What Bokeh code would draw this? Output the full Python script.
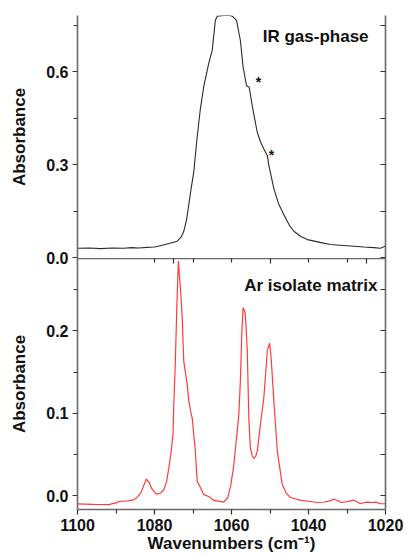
from bokeh.plotting import figure
from bokeh.models import Range1d, LinearAxis, FixedTicker, PrintfTickFormatter, CustomJSTickFormatter
from bokeh.layouts import column
from bokeh.embed import file_html
from bokeh.resources import INLINE
from bokeh.core.properties import value

# ---------------- data ----------------
gas_wn = [1100, 1097, 1094, 1091, 1088, 1086, 1084, 1082, 1080, 1078, 1076, 1074.1, 1073,
          1072.4, 1071.7, 1071.1, 1070.5, 1069.8, 1069.0, 1068.1, 1067.2, 1065.9, 1065.0,
          1064.5, 1064.2, 1063.7, 1062, 1060.5, 1059.8, 1058.7, 1057.7, 1057.0, 1056.1,
          1055.4, 1054.6, 1053.3, 1052.5, 1051.6, 1050.7, 1050.3, 1049.0, 1047.8, 1046.4,
          1045, 1043.8, 1042, 1040.3, 1037, 1034.3, 1030, 1025.6, 1023, 1021.3, 1020]
gas_abs = [0.030, 0.031, 0.029, 0.031, 0.030, 0.032, 0.031, 0.033, 0.034, 0.040, 0.046, 0.053, 0.068,
           0.085, 0.120, 0.170, 0.222, 0.277, 0.380, 0.479, 0.553, 0.628, 0.670,
           0.730, 0.766, 0.780, 0.782, 0.782, 0.780, 0.766, 0.702, 0.617, 0.555,
           0.550, 0.489, 0.404, 0.375, 0.351, 0.330, 0.298, 0.223, 0.175, 0.138,
           0.105, 0.085, 0.068, 0.058, 0.049, 0.042, 0.038, 0.034, 0.032, 0.030, 0.037]

ar_wn = [1100, 1096, 1091.9, 1090, 1089.3, 1087, 1085.4, 1084.5, 1083.6, 1082.8, 1082.1, 1081.4,
         1080.8, 1080, 1079.3, 1078.4, 1077.6, 1076.9, 1076.3, 1075.7, 1075.2, 1075.0, 1074.6,
         1074.2, 1073.8, 1073.4, 1073.1, 1072.8, 1072.4, 1071.5, 1071.1, 1070.6, 1070.2, 1069.4,
         1068.9, 1068.1, 1067.2, 1065.9, 1064.6, 1062.0, 1061.0, 1060.2, 1059.4, 1058.1, 1057.7,
         1057.3, 1057.0, 1056.6, 1056.4, 1055.9, 1055.5, 1055.1, 1054.6, 1054.2, 1053.7, 1053.3,
         1052.5, 1051.6, 1051.1, 1050.7, 1050.1, 1049.7, 1049.0, 1048.1, 1046.8, 1045.8, 1044.7,
         1042, 1039.5, 1037.7, 1036.0, 1034.5, 1033.4, 1032.5, 1031.5, 1030, 1028.2, 1027.3,
         1026.5, 1025.5, 1024.8, 1023.5, 1022.5, 1021.3, 1020]
ar_abs = [-0.0102, -0.0108, -0.011, -0.009, -0.0073, -0.0065, -0.0053, -0.002, 0.0028, 0.012, 0.020, 0.016,
          0.009, 0.004, 0.0016, 0.003, 0.007, 0.016, 0.033, 0.052, 0.074, 0.109, 0.160,
          0.230, 0.285, 0.260, 0.240, 0.216, 0.163, 0.135, 0.115, 0.102, 0.094, 0.054,
          0.017, 0.010, 0.001, -0.0012, -0.006, -0.008, -0.003, 0.012, 0.037, 0.098, 0.139,
          0.200, 0.228, 0.224, 0.220, 0.176, 0.094, 0.058, 0.048, 0.045, 0.048, 0.054,
          0.086, 0.119, 0.150, 0.176, 0.185, 0.167, 0.115, 0.054, 0.013, 0.003, -0.0024,
          -0.006, -0.0073, -0.0085, -0.0082, -0.0065, -0.0045, -0.006, -0.0085, -0.0075, -0.0057, -0.008,
          -0.010, -0.0085, -0.008, -0.0085, -0.008, -0.010, -0.010]

x_major = [1100, 1080, 1060, 1040, 1020]
x_minor = [1090, 1070, 1050, 1030]
top_y_major = [0.0, 0.3, 0.6]
top_y_minor = [0.15, 0.45, 0.75]
bot_y_major = [0.0, 0.1, 0.2]
bot_y_minor = [0.05, 0.15, 0.25]
star_wn = [1053.0, 1049.6]
star_abs = [0.568, 0.332]

FONT = "Liberation Sans"
AXIS_COLOR = "#6a6a6a"
TICK_COLOR = "#333333"

xr = Range1d(1100, 1020)
blank = CustomJSTickFormatter(code="return ''")


def style_axis(ax):
    ax.axis_line_color = AXIS_COLOR
    ax.axis_line_width = 1.6
    ax.major_tick_line_color = TICK_COLOR
    ax.minor_tick_line_color = TICK_COLOR
    ax.major_tick_line_width = 1.2
    ax.minor_tick_line_width = 1.2
    ax.major_label_text_font = FONT
    ax.major_label_text_font_style = "bold"
    ax.major_label_text_font_size = "16px"
    ax.major_label_text_color = "#111111"
    ax.axis_label_text_font = FONT
    ax.axis_label_text_font_style = "bold"
    ax.axis_label_text_font_size = "17px"
    ax.axis_label_text_color = "#111111"
    ax.major_tick_out = 5
    ax.major_tick_in = 0
    ax.minor_tick_out = 4
    ax.minor_tick_in = 0


def mirror_axis(ax):
    ax.axis_line_color = AXIS_COLOR
    ax.axis_line_width = 1.6
    ax.major_tick_line_color = TICK_COLOR
    ax.minor_tick_line_color = TICK_COLOR
    ax.major_tick_line_width = 1.2
    ax.minor_tick_line_width = 1.2
    ax.formatter = blank
    ax.major_label_standoff = 0
    ax.major_tick_out = 0
    ax.minor_tick_out = 0


# ---------------- top panel ----------------
top = figure(width=408, height=266, x_range=xr, y_range=Range1d(-0.003, 0.782),
             output_backend="svg", toolbar_location=None, x_axis_location=None,
             min_border_top=15, min_border_bottom=8, min_border_left=77, min_border_right=23)
top.outline_line_color = None
top.grid.visible = False
top.line(gas_wn, gas_abs, line_color="#2b2b2b", line_width=1.1)
top.text(star_wn, star_abs, text=["*", "*"], text_font=value(FONT), text_font_size="14px",
         text_font_style="bold", text_align="center", text_baseline="middle", text_color="#111111")
top.text([1024.4], [0.715], text=["IR gas-phase"], text_font=value(FONT), text_font_size="17px",
         text_font_style="bold", text_align="right", text_baseline="middle", text_color="#111111")

ly = top.yaxis[0]
style_axis(ly)
ly.ticker = FixedTicker(ticks=top_y_major, minor_ticks=top_y_minor)
ly.formatter = PrintfTickFormatter(format="%.1f")
ly.major_label_standoff = 4
ly.axis_label = "Absorbance"
ly.axis_label_standoff = 14

ry = LinearAxis(ticker=FixedTicker(ticks=top_y_major + top_y_minor, minor_ticks=[]))
mirror_axis(ry)
ry.major_tick_in = 5
top.add_layout(ry, "right")

# ---------------- bottom panel ----------------
bot = figure(width=408, height=297, x_range=xr, y_range=Range1d(-0.017, 0.288),
             output_backend="svg", toolbar_location=None,
             min_border_top=0, min_border_bottom=0, min_border_left=77, min_border_right=23,
             margin=(-8, 0, 0, 0))
bot.outline_line_color = None
bot.grid.visible = False
bot.border_fill_alpha = 0
bot.line(ar_wn, ar_abs, line_color="#ff3b3b", line_width=1.2)
bot.text([1022.1], [0.255], text=["Ar isolate matrix"], text_font=value(FONT), text_font_size="17px",
         text_font_style="bold", text_align="right", text_baseline="middle", text_color="#111111")

by = bot.yaxis[0]
style_axis(by)
by.ticker = FixedTicker(ticks=bot_y_major, minor_ticks=bot_y_minor)
by.formatter = PrintfTickFormatter(format="%.1f")
by.major_label_standoff = 4
by.axis_label = "Absorbance"
by.axis_label_standoff = 14

bx = bot.xaxis[0]
style_axis(bx)
bx.ticker = FixedTicker(ticks=x_major, minor_ticks=x_minor)
bx.formatter = PrintfTickFormatter(format="%d")
bx.major_label_standoff = 4
bx.axis_label = "Wavenumbers (cm\u207b\u00b9)"
bx.axis_label_standoff = 0

bry = LinearAxis(ticker=FixedTicker(ticks=bot_y_major + bot_y_minor, minor_ticks=[]))
mirror_axis(bry)
bry.major_tick_in = 5
bot.add_layout(bry, "right")

tx = LinearAxis(ticker=FixedTicker(ticks=[1075, 1050, 1025], minor_ticks=[1080, 1070, 1060, 1040, 1030]))
mirror_axis(tx)
tx.major_tick_in = 5
tx.minor_tick_in = 4
bot.add_layout(tx, "above")

layout = column(top, bot, spacing=0)
open("out.html", "w").write(file_html(layout, INLINE))
